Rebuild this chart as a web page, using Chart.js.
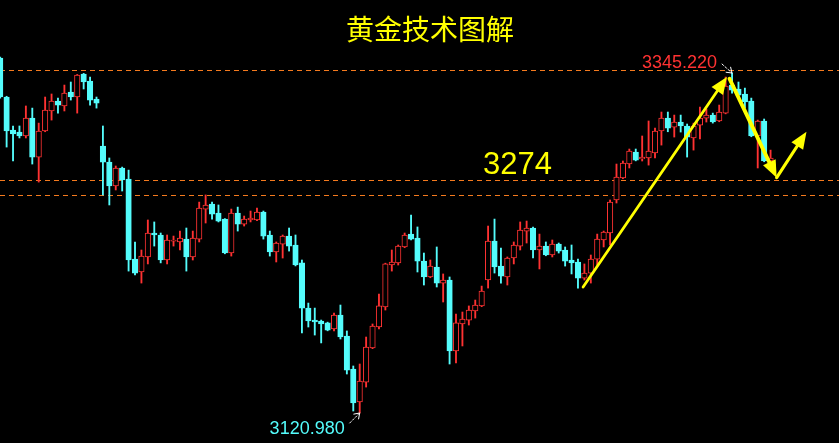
<!DOCTYPE html>
<html>
<head>
<meta charset="utf-8">
<script src="https://cdn.jsdelivr.net/npm/chart.js@4.4.1/dist/chart.umd.min.js"></script>
<style>
  html, body { margin: 0; padding: 0; background: #000; }
  canvas { display: block; }
</style>
</head>
<body>
<canvas id="myChart" width="839" height="443"></canvas>
<script>
// Candles (open / high / low / close)
const opens = [
  3355.1, 3329.4, 3307.6, 3306.3, 3303.7, 3315.5, 3289.8, 3307.0, 3320.2, 3326.8,
  3323.5, 3332.7, 3329.4, 3344.6, 3339.9, 3328.1, 3297.1, 3286.5, 3270.7, 3282.6,
  3275.3, 3222.5, 3214.0, 3223.9, 3239.7, 3238.4, 3221.9, 3234.4, 3233.8, 3235.7,
  3223.9, 3235.7, 3255.5, 3258.8, 3252.9, 3248.9, 3226.5, 3252.9, 3245.6, 3248.3,
  3248.3, 3253.5, 3238.4, 3227.2, 3232.4, 3237.7, 3231.8, 3220.0, 3190.2, 3182.3,
  3181.7, 3180.4, 3176.4, 3185.6, 3171.8, 3150.0, 3128.3, 3141.4, 3163.9, 3177.7,
  3190.9, 3218.6, 3220.0, 3230.5, 3239.0, 3236.4, 3221.2, 3210.7, 3217.3, 3206.7,
  3208.7, 3161.9, 3179.7, 3182.3, 3188.3, 3191.6, 3208.7, 3234.4, 3217.9, 3210.7,
  3223.2, 3231.1, 3241.0, 3243.0, 3228.5, 3231.1, 3225.2, 3232.4, 3228.5, 3221.9,
  3220.6, 3210.0, 3213.3, 3222.5, 3235.1, 3239.7, 3261.5, 3276.0, 3285.2, 3293.1,
  3288.5, 3289.2, 3292.5, 3307.0, 3315.5, 3309.6, 3312.9, 3310.3, 3302.4, 3310.9,
  3315.5, 3317.5, 3313.6, 3318.8, 3337.3, 3334.7, 3331.4, 3326.8, 3303.7, 3313.6,
  3287.2
];
const highs = [
  3355.8, 3329.9, 3310.3, 3310.3, 3323.5, 3322.1, 3312.2, 3329.4, 3331.4, 3328.7,
  3337.3, 3339.3, 3344.3, 3345.0, 3342.6, 3329.4, 3310.3, 3289.2, 3283.9, 3283.2,
  3281.2, 3233.8, 3228.5, 3248.3, 3247.0, 3239.7, 3238.4, 3237.7, 3241.0, 3243.0,
  3241.0, 3260.1, 3264.8, 3260.1, 3258.2, 3249.2, 3255.5, 3256.8, 3250.9, 3254.2,
  3256.2, 3254.2, 3241.0, 3233.8, 3238.4, 3243.0, 3238.4, 3221.9, 3193.5, 3190.2,
  3182.3, 3180.9, 3186.9, 3192.2, 3175.1, 3152.0, 3153.3, 3171.1, 3179.7, 3199.5,
  3219.8, 3228.5, 3231.8, 3239.7, 3251.6, 3243.7, 3226.5, 3221.9, 3230.5, 3212.7,
  3210.7, 3186.3, 3187.6, 3191.6, 3195.5, 3204.7, 3244.3, 3248.9, 3229.8, 3223.9,
  3233.8, 3247.0, 3247.6, 3243.7, 3239.0, 3233.8, 3235.1, 3233.1, 3230.5, 3231.8,
  3222.5, 3219.3, 3225.2, 3239.0, 3241.0, 3261.5, 3285.2, 3287.2, 3295.1, 3295.1,
  3303.7, 3313.6, 3308.9, 3319.5, 3319.5, 3317.5, 3317.5, 3311.6, 3312.2, 3322.8,
  3321.5, 3318.8, 3324.1, 3342.6, 3345.22, 3339.3, 3335.3, 3328.7, 3314.2, 3314.9,
  3294.4
];
const lows = [
  3328.7, 3296.4, 3287.2, 3302.4, 3302.4, 3285.2, 3273.3, 3306.5, 3314.2, 3318.8,
  3320.2, 3327.4, 3318.8, 3334.7, 3324.1, 3322.1, 3264.8, 3258.2, 3268.1, 3267.4,
  3214.6, 3212.0, 3206.7, 3219.3, 3231.1, 3220.0, 3219.3, 3231.1, 3228.5, 3214.6,
  3221.9, 3233.8, 3246.3, 3248.9, 3247.0, 3226.0, 3224.5, 3241.0, 3244.3, 3247.0,
  3247.8, 3235.7, 3224.5, 3220.6, 3223.2, 3227.8, 3218.0, 3173.8, 3177.7, 3172.4,
  3167.2, 3175.2, 3175.1, 3169.8, 3146.7, 3122.3, 3120.98, 3138.1, 3163.4, 3176.4,
  3188.9, 3214.6, 3218.6, 3230.0, 3235.2, 3214.0, 3205.4, 3210.2, 3204.1, 3194.2,
  3153.3, 3154.0, 3165.2, 3179.0, 3183.6, 3191.1, 3203.4, 3213.3, 3206.7, 3205.4,
  3219.3, 3228.5, 3233.1, 3223.2, 3216.0, 3224.7, 3223.9, 3226.5, 3217.9, 3212.7,
  3203.4, 3208.7, 3206.7, 3218.6, 3230.5, 3231.8, 3259.5, 3275.5, 3282.6, 3287.3,
  3287.2, 3284.5, 3289.2, 3297.7, 3306.5, 3303.0, 3306.3, 3289.8, 3294.4, 3301.7,
  3312.9, 3312.2, 3313.1, 3318.3, 3332.0, 3329.4, 3322.1, 3303.2, 3282.6, 3286.7,
  3286.7
];
const closes = [
  3329.4, 3307.0, 3305.0, 3303.7, 3315.5, 3289.8, 3307.0, 3320.8, 3326.8, 3324.1,
  3332.0, 3329.4, 3343.9, 3339.3, 3327.4, 3325.4, 3286.5, 3270.7, 3282.6, 3274.7,
  3221.9, 3213.3, 3224.5, 3239.7, 3238.4, 3221.9, 3235.1, 3235.1, 3236.4, 3223.9,
  3236.4, 3256.2, 3258.2, 3252.2, 3247.6, 3226.5, 3252.9, 3245.6, 3248.9, 3249.6,
  3253.5, 3237.7, 3227.2, 3233.1, 3237.7, 3231.1, 3218.6, 3190.2, 3181.7, 3181.0,
  3179.7, 3175.7, 3185.6, 3171.1, 3149.3, 3127.6, 3142.1, 3164.5, 3178.4, 3191.6,
  3219.3, 3220.6, 3231.1, 3238.4, 3235.7, 3221.2, 3210.7, 3217.9, 3206.7, 3208.7,
  3161.9, 3180.4, 3183.0, 3188.9, 3192.2, 3201.4, 3234.4, 3217.3, 3211.3, 3223.2,
  3231.8, 3241.7, 3243.0, 3228.5, 3231.1, 3225.2, 3232.4, 3227.8, 3221.2, 3220.0,
  3210.0, 3213.3, 3222.5, 3235.7, 3240.4, 3260.1, 3276.6, 3285.9, 3293.8, 3287.8,
  3289.8, 3293.8, 3307.0, 3315.5, 3308.9, 3312.9, 3310.3, 3303.0, 3310.3, 3315.5,
  3317.5, 3312.9, 3319.5, 3336.6, 3334.0, 3330.7, 3326.1, 3303.7, 3313.6, 3287.2,
  3289.2
];

// Dashed horizontal levels
const levels = [3346.9, 3274.6, 3264.8];
const levelLabel = "3274";

// Marked extremes: [bar index, price]
const highMark = [114, 3345.22];
const lowMark = [56, 3120.98];

// Yellow hand-drawn arrows, in [bar index, price]
const trendArrows = [
    { from: [90.8, 3204.1], to: [113.2, 3342.6], width: 2.8 },
    { from: [113.6, 3341.5], to: [120.95, 3276.2], width: 3.8 },
    { from: [120.95, 3276.2], to: [125.6, 3306.5], width: 3.2 }
];

const upColor = "#FF3232";
const downColor = "#54FCFC";
const bars = opens.map((_, i) => i);
const isUp = bars.map(i => closes[i] >= opens[i]);

function drawArrow(ctx, x1, y1, x2, y2, w, headLen, headW) {
    const a = Math.atan2(y2 - y1, x2 - x1);
    const bx = x2 - headLen * Math.cos(a);
    const by = y2 - headLen * Math.sin(a);
    ctx.lineWidth = w;
    ctx.beginPath();
    ctx.moveTo(x1, y1);
    ctx.lineTo(bx, by);
    ctx.stroke();
    ctx.beginPath();
    ctx.moveTo(x2, y2);
    ctx.lineTo(bx + headW * Math.sin(a), by - headW * Math.cos(a));
    ctx.lineTo(bx - headW * Math.sin(a), by + headW * Math.cos(a));
    ctx.closePath();
    ctx.fill();
}

function drawPointer(ctx, x1, y1, x2, y2) {
    // small white dotted pointer with an open head
    const a = Math.atan2(y2 - y1, x2 - x1);
    ctx.save();
    ctx.strokeStyle = "#FFFFFF";
    ctx.lineWidth = 1;
    ctx.setLineDash([2, 2]);
    ctx.beginPath();
    ctx.moveTo(x1, y1);
    ctx.lineTo(x2, y2);
    ctx.stroke();
    ctx.setLineDash([]);
    ctx.beginPath();
    ctx.moveTo(x2 - 6 * Math.cos(a - 0.6), y2 - 6 * Math.sin(a - 0.6));
    ctx.lineTo(x2, y2);
    ctx.lineTo(x2 - 6 * Math.cos(a + 0.6), y2 - 6 * Math.sin(a + 0.6));
    ctx.stroke();
    ctx.restore();
}

const overlay = {
    id: "overlay",
    beforeDraw(chart) {
        const ctx = chart.ctx;
        ctx.save();
        ctx.fillStyle = "#000000";
        ctx.fillRect(0, 0, chart.width, chart.height);
        ctx.restore();
    },
    beforeDatasetsDraw(chart) {
        const { ctx, chartArea, scales: { y } } = chart;
        ctx.save();
        ctx.strokeStyle = "#F57A1E";
        ctx.lineWidth = 1;
        ctx.setLineDash([5, 4]);
        levels.forEach(v => {
            const py = Math.round(y.getPixelForValue(v)) + 0.5;
            ctx.beginPath();
            ctx.moveTo(chartArea.left, py);
            ctx.lineTo(chartArea.right, py);
            ctx.stroke();
        });
        ctx.restore();
    },
    afterDatasetsDraw(chart) {
        const { ctx, scales: { x, y } } = chart;
        ctx.save();

        // trend arrows
        ctx.strokeStyle = "#FFFF00";
        ctx.fillStyle = "#FFFF00";
        ctx.lineCap = "round";
        trendArrows.forEach(t => {
            drawArrow(ctx,
                x.getPixelForValue(t.from[0]), y.getPixelForValue(t.from[1]),
                x.getPixelForValue(t.to[0]), y.getPixelForValue(t.to[1]),
                t.width, 17, 7);
        });

        // title
        ctx.textBaseline = "alphabetic";
        ctx.fillStyle = "#FFFF00";
        ctx.textAlign = "center";
        ctx.font = '28px "Noto Sans CJK SC", sans-serif';
        ctx.fillText("黄金技术图解", 430, 40);

        // level label
        ctx.textAlign = "left";
        ctx.font = '31px "Liberation Sans", Arial, sans-serif';
        ctx.fillText(levelLabel, 483, 174);

        // high / low marks
        const hx = x.getPixelForValue(highMark[0]);
        const hy = y.getPixelForValue(highMark[1]);
        const lx = x.getPixelForValue(lowMark[0]);
        const ly = y.getPixelForValue(lowMark[1]);

        ctx.font = '18px "Liberation Sans", Arial, sans-serif';
        ctx.textAlign = "right";
        ctx.fillStyle = upColor;
        ctx.fillText(highMark[1].toFixed(3), hx - 15, 68);
        ctx.fillStyle = downColor;
        ctx.fillText(lowMark[1].toFixed(3), lx - 15, 434);

        drawPointer(ctx, hx - 10, hy - 9, hx, hy);
        drawPointer(ctx, lx - 10, ly + 10, lx, ly);

        ctx.restore();
    }
};

const ctx = document.getElementById("myChart");

new Chart(ctx, {
    type: "bar",
    data: {
        datasets: [
            {
                label: "body",
                data: bars.map(i => ({ x: i, y: [opens[i], closes[i]] })),
                backgroundColor: isUp.map(u => u ? "#000000" : downColor),
                borderColor: isUp.map(u => u ? upColor : downColor),
                borderWidth: 1,
                borderSkipped: false,
                barThickness: 5.5,
                grouped: false,
                order: 0
            },
            {
                label: "wick",
                data: bars.map(i => ({ x: i, y: [lows[i], highs[i]] })),
                backgroundColor: isUp.map(u => u ? upColor : downColor),
                borderWidth: 0,
                barThickness: 1.2,
                grouped: false,
                order: 1
            }
        ]
    },
    options: {
        responsive: false,
        animation: false,
        devicePixelRatio: 1,
        layout: { padding: 0 },
        plugins: {
            legend: { display: false },
            tooltip: { enabled: false }
        },
        scales: {
            x: { type: "linear", display: false, offset: false, min: -0.03, max: 130.66 },
            y: { display: false, min: 3101.2, max: 3393.4 }
        }
    },
    plugins: [overlay]
});
</script>
</body>
</html>
